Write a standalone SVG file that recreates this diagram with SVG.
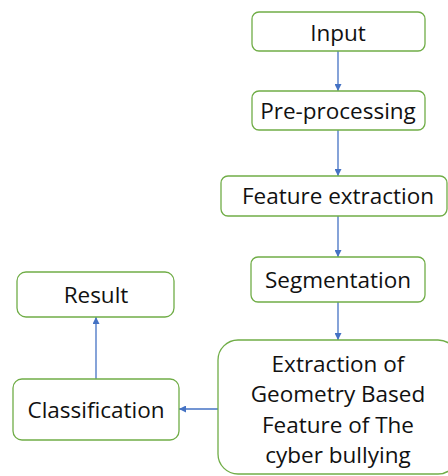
<svg xmlns="http://www.w3.org/2000/svg" width="448" height="476" viewBox="0 0 448 476">
<style>
.box{fill:#fff;stroke:#70ad47;stroke-width:1.3}
.t{font-family:"Open Sans","Noto Sans",sans-serif;font-size:22.5px;fill:#111;text-anchor:middle}
.c{stroke:#4472c4;stroke-width:1.3;fill:none;marker-end:url(#ah)}
</style>
<defs>
<marker id="ah" viewBox="0 0 10 10" refX="10" refY="5" markerWidth="7" markerHeight="7" markerUnits="userSpaceOnUse" orient="auto">
<path d="M0,0 L10,5 L0,10 z" fill="#4472c4"/>
</marker>
</defs>
<rect width="448" height="476" fill="#fff"/>
<g id="connectors">
<line class="c" x1="338" y1="51" x2="338" y2="91"/>
<line class="c" x1="338" y1="130" x2="338" y2="176"/>
<line class="c" x1="338" y1="216" x2="338" y2="257"/>
<line class="c" x1="338" y1="302" x2="338" y2="340"/>
<line class="c" x1="218" y1="409" x2="179" y2="409"/>
<line class="c" x1="96" y1="379" x2="96" y2="317"/>
</g>
<g id="input"><rect class="box" x="252" y="12" width="173" height="39" rx="7"/><text class="t" x="338" y="41">Input</text></g>
<g id="preprocessing"><rect class="box" x="252" y="91" width="173" height="39" rx="7"/><text class="t" x="338" y="119">Pre-processing</text></g>
<g id="feature-extraction"><rect class="box" x="221" y="176" width="226" height="40" rx="7"/><text class="t" x="338" y="204">Feature extraction</text></g>
<g id="segmentation"><rect class="box" x="251" y="257" width="174" height="45" rx="7"/><text class="t" x="338" y="288">Segmentation</text></g>
<g id="extraction"><rect class="box" x="218" y="340" width="240" height="134" rx="20"/>
<text class="t" x="338" y="372">Extraction of</text>
<text class="t" x="338" y="402">Geometry Based</text>
<text class="t" x="338" y="433">Feature of The</text>
<text class="t" x="338" y="463">cyber bullying</text></g>
<g id="classification"><rect class="box" x="13" y="379" width="166" height="61" rx="9"/><text class="t" x="96" y="418">Classification</text></g>
<g id="result"><rect class="box" x="17" y="272" width="157" height="45" rx="9"/><text class="t" x="96" y="303">Result</text></g>
</svg>
